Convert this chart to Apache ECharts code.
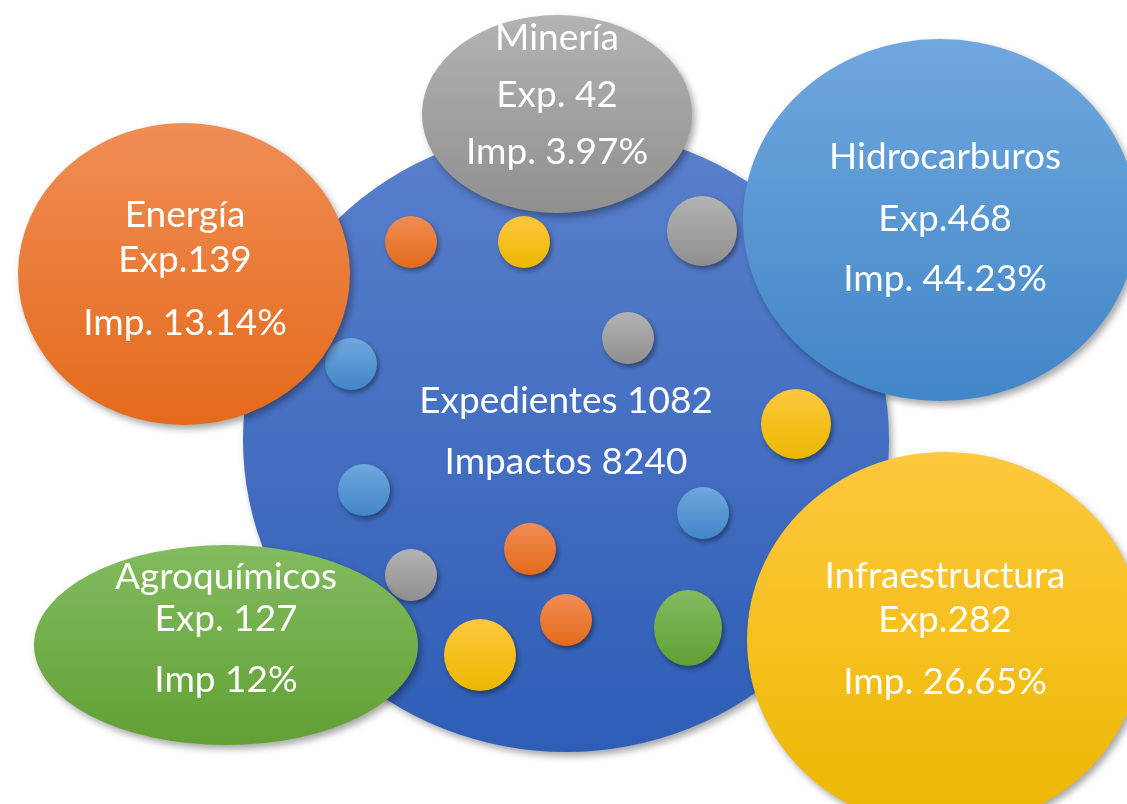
<!DOCTYPE html>
<html><head><meta charset="utf-8">
<script src="https://cdn.jsdelivr.net/npm/echarts@6/dist/echarts.min.js"></script>
<style>html,body{margin:0;padding:0;background:#fff}#c{width:1127px;height:804px}</style>
</head><body><div id="c"></div>
<script>
// ---- data ----
const sectors = ['Minería', 'Energía', 'Hidrocarburos', 'Agroquímicos', 'Infraestructura'];
const expedientes = [42, 139, 468, 127, 282];
const impactosPct = [3.97, 13.14, 44.23, 12, 26.65];
const expLabels = ['Exp. 42', 'Exp.139', 'Exp.468', 'Exp. 127', 'Exp.282'];
const impLabels = ['Imp. 3.97%', 'Imp. 13.14%', 'Imp. 44.23%', 'Imp 12%', 'Imp. 26.65%'];
const totalExpedientes = 1082;
const totalImpactos = 8240;

// ---- layout (diagram placement, not data) ----
const palette = [
  ['#B3B3B3', '#8F8F8F'],
  ['#F08D55', '#E46A1B'],
  ['#70A7DD', '#4186C8'],
  ['#83BB5F', '#60A034'],
  ['#FFC83E', '#ECB700']
];
const mainLayout = { x: 566, y: 440, w: 646, h: 624, off: -8.5, g: 61 };
const mainColor = ['#5A80CC', '#2E5DB6'];
const sectorLayout = [
  { x: 557, y: 114, w: 270, h: 198, dx: 0, off: -19, g1: 57, g2: 57 },
  { x: 184, y: 274, w: 332, h: 302, dx: 1, off: 4, g1: 45, g2: 63 },
  { x: 940, y: 220, w: 394, h: 362, dx: 5, off: -3, g1: 62, g2: 60 },
  { x: 226, y: 645, w: 384, h: 200, dx: 0, off: -7, g1: 42, g2: 61 },
  { x: 945, y: 640, w: 396, h: 376, dx: 0, off: -2, g1: 44, g2: 62 }
];
const dotSector = [1, 4, 0, 0, 2, 4, 2, 2, 1, 0, 1, 3, 4];
const dotLayout = [
  [411, 242, 52, 52], [524, 242, 52, 52], [702, 231, 70, 70], [628, 338, 52, 52],
  [351, 364, 52, 52], [796, 424, 70, 70], [364, 490, 52, 52], [703, 513, 52, 52],
  [530, 549, 52, 52], [411, 575, 52, 52], [566, 620, 52, 52], [688, 628, 68, 76],
  [480, 655, 72, 72]
];

const FONT = 'Lato';
const FS = 37;
function grad(c) {
  return { type: 'linear', x: 0, y: 0, x2: 0, y2: 1, colorStops: [{ offset: 0, color: c[0] }, { offset: 1, color: c[1] }] };
}
const shadow = { opacity: 1, shadowBlur: 7, shadowOffsetX: 3, shadowOffsetY: 4, shadowColor: 'rgba(0,0,0,0.35)' };

const mainData = [{
  value: [mainLayout.x, mainLayout.y],
  symbolSize: [mainLayout.w, mainLayout.h],
  itemStyle: Object.assign({ color: grad(mainColor) }, shadow),
  label: {
    show: true, position: 'inside', offset: [0, mainLayout.off],
    formatter: '{a|Expedientes ' + totalExpedientes + '}\n{a|Impactos ' + totalImpactos + '}',
    rich: { a: { color: '#fff', fontFamily: FONT, fontSize: FS, lineHeight: mainLayout.g } }
  }
}];

const sectorData = sectors.map((s, i) => {
  const L = sectorLayout[i];
  return {
    name: s,
    value: [L.x, L.y, expedientes[i], impactosPct[i]],
    symbolSize: [L.w, L.h],
    itemStyle: Object.assign({ color: grad(palette[i]) }, shadow),
    label: {
      show: true, position: 'inside', offset: [L.dx, L.off],
      formatter: '{a|' + s + '}\n{b|' + expLabels[i] + '}\n{c|' + impLabels[i] + '}',
      rich: {
        a: { color: '#fff', fontFamily: FONT, fontSize: FS, lineHeight: L.g1 },
        b: { color: '#fff', fontFamily: FONT, fontSize: FS, lineHeight: L.g1 },
        c: { color: '#fff', fontFamily: FONT, fontSize: FS, lineHeight: 2 * L.g2 - L.g1 }
      }
    }
  };
});

const dotData = dotSector.map((k, i) => ({
  name: sectors[k],
  value: [dotLayout[i][0], dotLayout[i][1]],
  symbolSize: [dotLayout[i][2], dotLayout[i][3]],
  itemStyle: { color: grad(palette[k]), opacity: 1, shadowBlur: 5, shadowOffsetX: 2, shadowOffsetY: 3, shadowColor: 'rgba(0,0,0,0.4)' }
}));

const chart = echarts.init(document.getElementById('c'), null, { renderer: 'canvas' });
chart.setOption({
  backgroundColor: '#ffffff',
  animation: false,
  grid: { left: 0, right: 0, top: 0, bottom: 0 },
  xAxis: { type: 'value', min: 0, max: 1127, show: false },
  yAxis: { type: 'value', min: 0, max: 804, inverse: true, show: false },
  series: [
    { type: 'scatter', symbol: 'circle', clip: false, z: 1, data: mainData, itemStyle: { opacity: 1 }, emphasis: { disabled: true } },
    { type: 'scatter', symbol: 'circle', clip: false, z: 2, data: dotData, itemStyle: { opacity: 1 }, emphasis: { disabled: true } },
    { type: 'scatter', symbol: 'circle', clip: false, z: 3, data: sectorData, itemStyle: { opacity: 1 }, emphasis: { disabled: true } }
  ]
});
</script></body></html>
